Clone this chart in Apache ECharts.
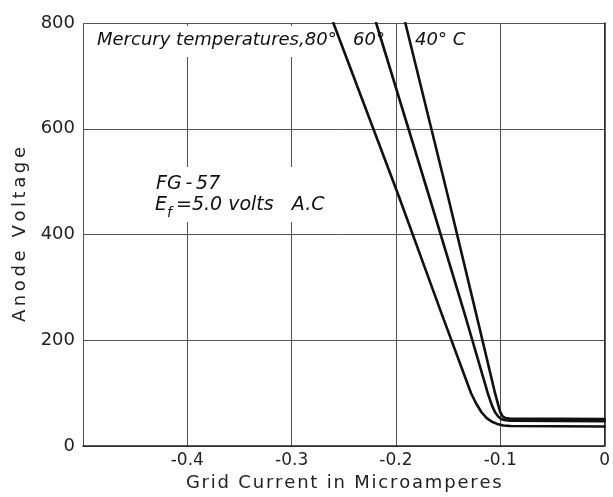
<!DOCTYPE html>
<html>
<head>
<meta charset="utf-8">
<script src="https://cdn.jsdelivr.net/npm/echarts@6/dist/echarts.min.js"></script>
<style>
  html, body { margin: 0; padding: 0; background: #fff; }
  #chart { width: 613px; height: 497px; }
</style>
</head>
<body>
<div id="chart"></div>
<script>
// Grid current (microamperes) vs. anode voltage for the FG-57 at three mercury temperatures
const temp80 = [
  [-0.260, 800], [-0.197, 471], [-0.156, 249], [-0.128, 100], [-0.123, 80],
  [-0.118, 64], [-0.113, 53], [-0.108, 46], [-0.103, 42], [-0.097, 39],
  [-0.090, 38], [0, 37]
];
const temp60 = [
  [-0.219, 800], [-0.168, 471], [-0.134, 249], [-0.112, 100], [-0.108, 77],
  [-0.105, 64], [-0.102, 56], [-0.099, 51], [-0.095, 49], [-0.090, 48], [0, 47]
];
const temp40 = [
  [-0.191, 800], [-0.150, 471], [-0.123, 249], [-0.105, 100], [-0.102, 78],
  [-0.100, 64], [-0.098, 57], [-0.095, 53], [-0.091, 52], [0, 51]
];
const xTicks = [-0.4, -0.3, -0.2, -0.1, 0];
const yTicks = [0, 200, 400, 600, 800];
const xName = 'Grid Current in Microamperes';
const yName = 'Anode Voltage';

// hand-lettered axis titles are widely spaced: pad between letters
const spaced = (s, gap) => s.split('').join(gap);

const chart = echarts.init(document.getElementById('chart'));

const lineStyle = { color: '#111', width: 2.6, join: 'round', cap: 'round' };
function curve(name, data) {
  return {
    name, type: 'line', data,
    smooth: false,
    showSymbol: false, lineStyle, z: 3
  };
}

const italic = { fontFamily: 'DejaVu Sans', fontStyle: 'italic', fontSize: 18, fill: '#111' };
function label(x, y, text, extra) {
  return {
    type: 'text', z: 4,
    style: Object.assign({}, italic, { x, y, text, textVerticalAlign: 'middle' }, extra || {})
  };
}

chart.setOption({
  animation: false,
  backgroundColor: '#fff',
  grid: { left: 83, right: 4, top: 23, bottom: 45 },
  xAxis: {
    type: 'value', min: -0.5, max: 0, interval: 0.1,
    name: spaced(xName, '\u200A'), nameLocation: 'middle', nameGap: 22,
    nameTextStyle: { fontFamily: 'DejaVu Sans', fontSize: 18, color: '#222' },
    axisLine: { lineStyle: { color: '#222', width: 1.5 } },
    axisTick: { show: false },
    axisLabel: {
      fontFamily: 'DejaVu Sans', fontSize: 17, color: '#222', margin: 6,
      formatter: v => {
        const t = xTicks.find(k => Math.abs(k - v) < 1e-9);
        if (t === undefined) return '';
        return t === 0 ? '0' : t.toFixed(1);
      }
    },
    splitLine: { show: true, lineStyle: { color: '#555', width: 1 } }
  },
  yAxis: {
    type: 'value', min: 0, max: 800, interval: 200,
    name: spaced(yName, '\u2009'), nameLocation: 'middle', nameGap: 49,
    nameTextStyle: { fontFamily: 'DejaVu Sans', fontSize: 18, color: '#222' },
    axisLine: { show: true, lineStyle: { color: '#222', width: 1.5 } },
    axisTick: { show: false },
    axisLabel: {
      fontFamily: 'DejaVu Sans', fontSize: 18, color: '#222', margin: 8,
      formatter: v => (yTicks.includes(v) ? String(v) : '')
    },
    splitLine: { show: true, lineStyle: { color: '#555', width: 1 } }
  },
  graphic: [
    { type: 'rect', z: 1, shape: { x: 90, y: 26, width: 243, height: 31 }, style: { fill: '#fff' } },
    { type: 'rect', z: 1, shape: { x: 150, y: 167, width: 186, height: 55 }, style: { fill: '#fff' } },
    label(97, 40, 'Mercury temperatures,80°'),
    label(353, 40, '60°'),
    label(415, 40, '40° C'),
    label(156, 184, 'FG\u2009-\u200957', { fontSize: 19 }),
    label(155, 205, 'E', { fontSize: 19 }),
    label(167, 213, 'f', { fontSize: 14 }),
    label(176, 205, '=5.0 volts   A.C', { fontSize: 19 })
  ],
  series: [
    curve('80°', temp80),
    curve('60°', temp60),
    curve('40°', temp40)
  ]
});
</script>
</body>
</html>
